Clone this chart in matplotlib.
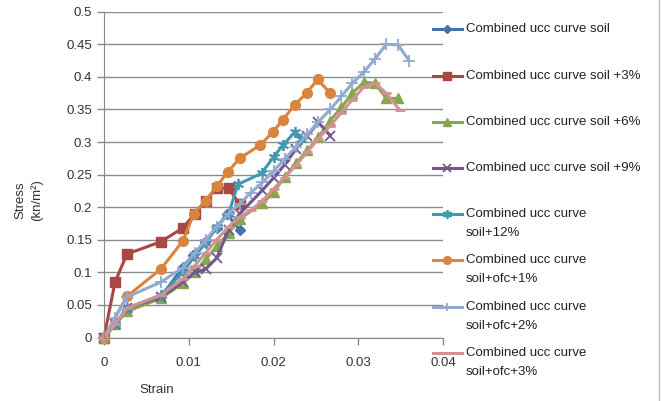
import matplotlib.pyplot as plt
from matplotlib.lines import Line2D

# Unconfined compression test results: strain vs stress for each mix
soil_strain = [0, 0.0013, 0.0027, 0.0067, 0.0093, 0.0105, 0.0119, 0.0133, 0.0145, 0.016]
soil_stress = [0, 0.02, 0.042, 0.062, 0.108, 0.127, 0.146, 0.168, 0.19, 0.165]

soil3_strain = [0, 0.0013, 0.0027, 0.0067, 0.0093, 0.0107, 0.012, 0.0133, 0.0147, 0.016]
soil3_stress = [0, 0.085, 0.128, 0.147, 0.168, 0.19, 0.21, 0.23, 0.229, 0.205]

soil6_strain = [0, 0.0013, 0.0027, 0.0067, 0.0093, 0.0107, 0.012, 0.0133, 0.0147, 0.016,
                0.0187, 0.02, 0.0213, 0.0227, 0.024, 0.0253, 0.0267, 0.028, 0.0293,
                0.0307, 0.032, 0.0333, 0.0347]
soil6_stress = [0, 0.02, 0.04, 0.06, 0.083, 0.1, 0.12, 0.14, 0.16, 0.182,
                0.206, 0.223, 0.246, 0.268, 0.287, 0.307, 0.333, 0.353, 0.375,
                0.392, 0.39, 0.367, 0.367]

soil9_strain = [0, 0.0013, 0.0027, 0.0067, 0.0093, 0.0107, 0.012, 0.0133, 0.0147, 0.016,
                0.0187, 0.02, 0.0213, 0.0227, 0.024, 0.0253, 0.0267]
soil9_stress = [0, 0.02, 0.045, 0.062, 0.085, 0.1, 0.105, 0.122, 0.165, 0.19,
                0.226, 0.245, 0.265, 0.29, 0.31, 0.33, 0.31]

soil12_strain = [0, 0.0013, 0.0027, 0.0067, 0.0093, 0.0107, 0.012, 0.0133, 0.0147, 0.0158,
                 0.0186, 0.02, 0.0211, 0.0225, 0.0233]
soil12_stress = [0, 0.02, 0.045, 0.065, 0.1, 0.125, 0.145, 0.17, 0.19, 0.235,
                 0.252, 0.277, 0.295, 0.315, 0.305]

ofc1_strain = [0, 0.0027, 0.0067, 0.0093, 0.0106, 0.012, 0.0133, 0.0146, 0.016,
               0.0184, 0.0199, 0.0211, 0.0225, 0.0239, 0.0252, 0.0267]
ofc1_stress = [0, 0.063, 0.105, 0.148, 0.19, 0.21, 0.232, 0.254, 0.275,
               0.295, 0.315, 0.334, 0.357, 0.375, 0.396, 0.375]

ofc2_strain = [0, 0.0013, 0.0027, 0.0067, 0.0093, 0.0107, 0.012, 0.0133, 0.0147, 0.016,
               0.0173, 0.0187, 0.02, 0.0213, 0.0227, 0.024, 0.0253, 0.0267, 0.028,
               0.0293, 0.0307, 0.032, 0.0333, 0.0347, 0.036]
ofc2_stress = [0, 0.03, 0.062, 0.085, 0.107, 0.13, 0.15, 0.17, 0.19, 0.205,
               0.222, 0.238, 0.255, 0.274, 0.293, 0.312, 0.331, 0.35, 0.37,
               0.39, 0.408, 0.428, 0.45, 0.449, 0.425]

ofc3_strain = [0, 0.0013, 0.0027, 0.0067, 0.0093, 0.0107, 0.012, 0.0133, 0.0147, 0.016,
               0.0173, 0.0187, 0.02, 0.0213, 0.0227, 0.024, 0.0253, 0.0267, 0.028,
               0.0293, 0.0307, 0.032, 0.0333, 0.0349]
ofc3_stress = [0, 0.02, 0.045, 0.065, 0.09, 0.11, 0.13, 0.15, 0.17, 0.185,
               0.195, 0.21, 0.228, 0.245, 0.265, 0.285, 0.305, 0.325, 0.345,
               0.365, 0.385, 0.39, 0.375, 0.349]

labels = [
    'Combined ucc curve soil',
    'Combined ucc curve soil +3%',
    'Combined ucc curve soil +6%',
    'Combined ucc curve soil +9%',
    'Combined ucc curve\nsoil+12%',
    'Combined ucc curve\nsoil+ofc+1%',
    'Combined ucc curve\nsoil+ofc+2%',
    'Combined ucc curve\nsoil+ofc+3%',
]

x_ticks = [0, 0.01, 0.02, 0.03, 0.04]
x_tick_labels = ['0', '0.01', '0.02', '0.03', '0.04']
y_ticks = [0, 0.05, 0.1, 0.15, 0.2, 0.25, 0.3, 0.35, 0.4, 0.45, 0.5]
y_tick_labels = ['0', '0.05', '0.1', '0.15', '0.2', '0.25', '0.3', '0.35', '0.4', '0.45', '0.5']

series = [
    (soil_strain, soil_stress),
    (soil3_strain, soil3_stress),
    (soil6_strain, soil6_stress),
    (soil9_strain, soil9_stress),
    (soil12_strain, soil12_stress),
    (ofc1_strain, ofc1_stress),
    (ofc2_strain, ofc2_stress),
    (ofc3_strain, ofc3_stress),
]

# Excel 2007 style palette and markers
colors = ['#4572A7', '#AA4643', '#89A54E', '#71588F', '#4198AF', '#DB843D', '#93A9CF', '#D19392']
markers = ['D', 's', '^', 'x', (6, 2, 0), 'o', '+', '_']
msizes = [5.5, 7, 7, 7, 8, 7, 8, 7]
medge = [1, 1, 1, 1.3, 1.3, 1, 1.3, 2]

plt.rcParams['font.family'] = ['Liberation Sans', 'DejaVu Sans']

W, H = 661, 401
fig = plt.figure(figsize=(W / 100, H / 100), dpi=100)
ax = fig.add_axes([104 / W, 1 - 337.5 / H, (443 - 104) / W, (337.5 - 11.7) / H])

for (xs, ys), c, m, ms, me in zip(series, colors, markers, msizes, medge):
    ax.plot(xs, ys, color=c, lw=2.2, marker=m, markersize=ms,
            markeredgewidth=me, markeredgecolor=c, markerfacecolor=c, clip_on=False)

ax.set_xlim(0, 0.04)
ax.set_ylim(0, 0.5)
ax.set_xticks(x_ticks)
ax.set_xticklabels(x_tick_labels)
ax.set_yticks(y_ticks)
ax.set_yticklabels(y_tick_labels)
ax.tick_params(colors='#888888', labelcolor='#333333', labelsize=9.5, length=5, width=1)
ax.tick_params(axis='x', pad=9)
ax.yaxis.grid(True, color='#8c8c8c', lw=1)
ax.set_axisbelow(True)
for side in ['top', 'right']:
    ax.spines[side].set_visible(False)
for side in ['left', 'bottom']:
    ax.spines[side].set_color('#888888')

fig.text(29 / W, 1 - 200 / H, 'Stress\n(kn/m²)', rotation=90, ha='center', va='center',
         fontsize=9.5, color='#333333', linespacing=1.35)
fig.text(157 / W, 1 - 390 / H, 'Strain', ha='center', va='center', fontsize=9.5, color='#333333')

# Legend drawn to the right of the plot area
entry_y = [29, 76, 122, 168, 214, 260, 307, 353]
for y, lab, c, m, ms, me in zip(entry_y, labels, colors, markers, msizes, medge):
    fy = 1 - y / H
    fig.add_artist(Line2D([433 / W, 462 / W], [fy, fy], color=c, lw=2.2))
    fig.add_artist(Line2D([447.5 / W], [fy], color=c, marker=m, markersize=ms * 0.8,
                          markeredgewidth=me, markeredgecolor=c, markerfacecolor=c))
    for k, line in enumerate(lab.split('\n')):
        fig.text(466 / W, 1 - (y + 19 * k) / H, line, ha='left', va='center',
                 fontsize=9.5, color='#222222')

# chart area border on the right
fig.add_artist(Line2D([659 / W, 659 / W], [0, 1], color='#bbbbbb', lw=1))

fig.savefig('out.png', dpi=100)
